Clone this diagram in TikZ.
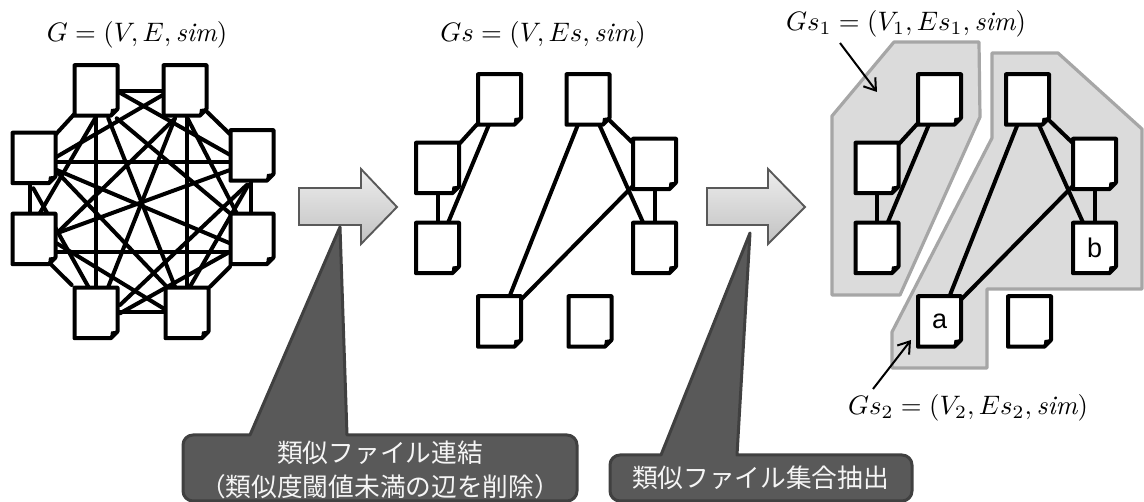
\documentclass[tikz,border=0pt]{standalone}
\usepackage{graphicx}
\usepackage{fontspec}
\newfontfamily\cjk{Noto Sans CJK JP}
\newfontfamily\arialish{Liberation Sans}
\usetikzlibrary{arrows.meta}
\pgfdeclarelayer{regions}
\pgfdeclarelayer{edges}
\pgfsetlayers{regions,edges,main}
\tikzset{
  x=1pt,y=-1pt,
  docfile/.style={rectangle,inner sep=0pt,outer sep=0pt,
    minimum width=43pt,minimum height=50.5pt,font=\arialish\fontsize{27}{29}\selectfont},
  docoutline/.style={draw=black,fill=white,line width=4pt,line join=round},
  docfold/.style={draw=black,fill=black,line width=1.2pt,line join=round},
  link/.style={draw=black,line width=4pt,line cap=round},
  region/.style={draw=black!35,fill=black!14,line width=3.2pt,line join=round},
  bigarrow/.style={draw=black!65,line width=1.9pt,line join=miter,top color=black!7,bottom color=black!24},
  callout/.style={draw=black!75,fill=black!65,line width=3pt,line join=round},
  calltext/.style={text=black!4,font=\cjk\fontsize{25.7}{33.5}\selectfont,align=center,inner sep=0pt},
  formula/.style={inner sep=0pt},
  pointer/.style={draw=black,line width=2pt,-{Straight Barb[length=11pt,width=15pt]}},
}
\newcommand{\docnode}[4]{%
  \begin{scope}[shift={(#2,#3)}]
  \draw[docoutline] (-21.5,-25.25) -- (21.5,-25.25) -- (21.5,18.5) -- (14.75,25.25) -- (-21.5,25.25) -- cycle;
  \draw[docfold] (14.75,25) -- (21.25,18.5) -- (15.5,19) -- cycle;
  \end{scope}
  \node[docfile] (#1) at (#2,#3) {#4};
}
\newcommand{\gedge}[6]{\begin{pgfonlayer}{edges}\draw[link] ([shift={(#2,#3)}]#1.center) -- ([shift={(#5,#6)}]#4.center);\end{pgfonlayer}}
\newcommand{\fml}[1]{\scalebox{2.67}{$#1$}}
\begin{document}
\begin{tikzpicture}
\useasboundingbox (0,0) rectangle (1144,502);
% --- graph 1
\docnode{at}{96}{90.5}{}
\docnode{bt}{185}{90.5}{}
\docnode{cl}{34}{158}{}
\docnode{dl}{34}{239}{}
\docnode{er}{252}{155.5}{}
\docnode{fr}{252}{239}{}
\docnode{gb}{96}{313}{}
\docnode{hb}{187}{313}{}
\gedge{at}{0}{0.2}{bt}{0}{0.2}
\gedge{at}{12}{-4.5}{er}{-12}{5}
\gedge{bt}{-12}{-1.5}{cl}{12}{5}
\gedge{at}{4}{19.5}{dl}{3}{-21}
\gedge{at}{20.7}{27.8}{fr}{-22}{-25.7}
\gedge{at}{12.3}{27.8}{hb}{-12}{-26.3}
\gedge{at}{0}{0}{gb}{0}{0}
\gedge{bt}{1.7}{0}{hb}{-0.3}{0}
\gedge{bt}{-10}{27.8}{gb}{12.3}{-26.3}
\gedge{bt}{-11.7}{29.5}{dl}{22.7}{-5.7}
\gedge{bt}{1.7}{26.2}{fr}{-15.3}{-25.7}
\gedge{cl}{10}{4}{er}{-10}{6.5}
\gedge{cl}{22.7}{12}{fr}{-22}{4.3}
\gedge{cl}{-4}{0}{dl}{-4}{0}
\gedge{cl}{-0.7}{30.3}{gb}{-7.7}{-26.3}
\gedge{cl}{24.3}{15.3}{hb}{-20.3}{-26.3}
\gedge{dl}{22.7}{-5.7}{er}{-22}{14.5}
\gedge{dl}{10}{13}{fr}{-10}{13}
\gedge{dl}{14.3}{22.7}{gb}{-24.3}{-28}
\gedge{dl}{22.7}{4.3}{hb}{-23.7}{-4.7}
\gedge{er}{-1}{0}{fr}{-1}{0}
\gedge{er}{-5.3}{29.5}{gb}{24}{-8}
\gedge{er}{-3.7}{29.5}{hb}{3}{-26.3}
\gedge{fr}{-22}{12.7}{gb}{24}{0.3}
\gedge{fr}{-22}{27.7}{hb}{23}{-26.3}
\gedge{gb}{10}{-1}{hb}{-10}{-1}
\gedge{at}{0}{0}{cl}{0}{0}
\gedge{bt}{0}{0}{er}{0}{0}
% --- graph 2
\docnode{pa}{499.5}{99.5}{}
\docnode{pb}{588}{99.5}{}
\docnode{pc}{437.5}{168}{}
\docnode{pd}{437.5}{248}{}
\docnode{pe}{654.5}{164}{}
\docnode{pf}{654.5}{248}{}
\docnode{pg}{499.5}{321.5}{}
\docnode{ph}{590}{321.5}{}
\foreach \u/\v in {pa/pc,pa/pd,pc/pd,pb/pe,pb/pf,pe/pf,pb/pg,pe/pg}{\gedge{\u}{0}{0}{\v}{0}{0}}
% --- graph 3
\docnode{qa}{939.5}{99.5}{}
\docnode{qb}{1027.5}{99.5}{}
\docnode{qc}{877}{168}{}
\docnode{qd}{877}{248}{}
\docnode{qe}{1094.5}{164}{}
\docnode{qf}{1094.5}{248}{b}
\docnode{qg}{939.5}{321.5}{a}
\docnode{qh}{1029.5}{321.5}{}
\foreach \u/\v in {qa/qc,qa/qd,qc/qd,qb/qe,qb/qf,qe/qf,qb/qg,qe/qg}{\gedge{\u}{0}{0}{\v}{0}{0}}
\begin{pgfonlayer}{regions}
\draw[region] (832,116) -- (894,42) -- (979,42) -- (980,117) -- (900,295) -- (832,295) -- cycle;
\draw[region] (992,53) -- (1058,53) -- (1142,129) -- (1142,289) -- (987,289) -- (987,368) -- (892,368) -- (892,332) -- (992,138) -- cycle;
\end{pgfonlayer}
% --- block arrows
\draw[bigarrow] (299,188) -- (361,188) -- (361,169) -- (397,207) -- (361,244) -- (361,225) -- (299,225) -- cycle;
\draw[bigarrow] (707,188) -- (768,188) -- (768,169) -- (805,207) -- (768,244) -- (768,225) -- (707,225) -- cycle;
% --- callouts
\draw[callout] (250,435) -- (340,227) -- (347,435) [rounded corners=10pt] -- (577,435) -- (577,501) -- (183,501) -- (183,435) [sharp corners] -- (250,435) -- cycle;
\draw[callout] (661,455) -- (750,233) -- (737,455) [rounded corners=10pt] -- (912,455) -- (912,501) -- (610,501) -- (610,455) [sharp corners] -- (661,455) -- cycle;
\node[calltext] (cap1) at (380,470) {類似ファイル連結\\（類似度閾値未満の辺を削除）};
\node[calltext] (cap2) at (760.5,478) {類似ファイル集合抽出};
% --- formulas
\node[formula] (f1) at (137,35) {\fml{G=(V,E,\mathit{sim})}};
\node[formula] (f2) at (543,35) {\fml{Gs=(V,Es,\mathit{sim})}};
\node[formula] (f3) at (906,24) {\fml{Gs_1=(V_1,Es_1,\mathit{sim})}};
\node[formula] (f4) at (968,408) {\fml{Gs_2=(V_2,Es_2,\mathit{sim})}};
\coordinate (p1s) at (840,43);
\coordinate (p1e) at (877,92);
\coordinate (p2s) at (873,389);
\coordinate (p2e) at (911,340);
\draw[pointer] (p1s) -- (p1e);
\draw[pointer] (p2s) -- (p2e);
\end{tikzpicture}
\end{document}
